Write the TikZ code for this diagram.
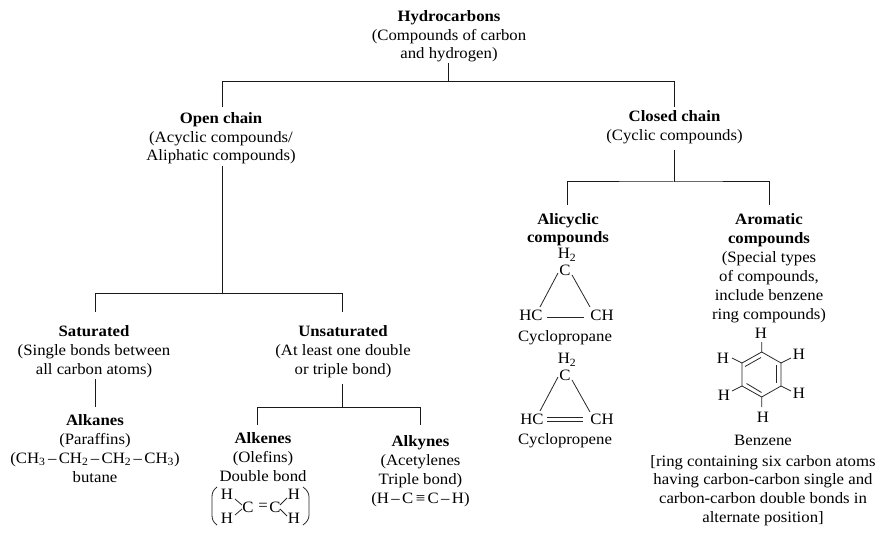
\documentclass[tikz,border=0pt]{standalone}
\usepackage{fontspec}
\setmainfont[FakeStretch=1.06]{Liberation Serif}
\usetikzlibrary{calc}
\tikzset{
  x=1pt,y=-1pt,
  txt/.style={inner sep=0pt,align=center,anchor=base,font=\fontsize{15.8}{18.8}\selectfont},
  lbl/.style={inner sep=0pt,anchor=center,font=\fontsize{15.8}{18}\selectfont},
  tree/.style={line width=1pt,black!90},
  bond/.style={line width=0.8pt,black!85},
}
\newcommand{\hb}[1]{\textbf{#1}}
\newcommand{\sbs}[1]{\textsubscript{#1}}
\newcommand{\ts}{\hspace{2.4pt}}
\begin{document}
\begin{tikzpicture}
\useasboundingbox (0,0) rectangle (882,534);
% texts (position = baseline of last line)
\node[txt] (root) at (449,59) {\hb{Hydrocarbons}\\(Compounds of carbon\\and hydrogen)};
\node[txt] (open) at (221,161) {\hb{Open chain}\\(Acyclic compounds/\\Aliphatic compounds)};
\node[txt] (closed) at (674.5,140.5) {\hb{Closed chain}\\(Cyclic compounds)};
\node[txt] (alicyclic) at (568,243) {\hb{Alicyclic}\\\hb{compounds}};
\node[txt] (aromatic) at (769,319) {\hb{Aromatic}\\\hb{compounds}\\(Special types\\of compounds,\\include benzene\\ring compounds)};
\node[txt] (sat) at (94,374.5) {\hb{Saturated}\\(Single bonds between\\all carbon atoms)};
\node[txt] (unsat) at (343,374.5) {\hb{Unsaturated}\\(At least one double\\or triple bond)};
\node[txt] (alkanes) at (95,482) {\hb{Alkanes}\\(Paraffins)\\(CH\sbs{3}\ts--\ts CH\sbs{2}\ts--\ts CH\sbs{2}\ts--\ts CH\sbs{3})\\butane};
\node[txt] (alkenes) at (263,481) {\hb{Alkenes}\\(Olefins)\\Double bond};
\node[txt] (alkynes) at (420.5,503) {\hb{Alkynes}\\(Acetylenes\\Triple bond)\\(H\ts--\ts C\ts≡\ts C\ts--\ts H)};
\node[txt] (benzlab) at (763,445.5) {Benzene};
\node[txt] (benztxt) at (763,522.5) {[ring containing six carbon atoms\\having carbon-carbon single and\\carbon-carbon double bonds in\\alternate position]};
% tree
\coordinate (rootb) at (448.5,63);
\coordinate (j0) at (448.5,81.7);
\coordinate (opent) at (222.3,106.7);
\coordinate (closedt) at (674,107);
\draw[tree] (rootb) -- (j0);
\draw[tree] (opent) |- (j0) -| (closedt);
\coordinate (openb) at (222.3,166);
\coordinate (j1) at (222.3,293.7);
\coordinate (satt) at (95,312);
\coordinate (unsatt) at (342.7,312);
\draw[tree] (openb) -- (j1);
\draw[tree] (satt) |- (j1) -| (unsatt);
\coordinate (closedb) at (674,150);
\coordinate (j2) at (674,182);
\coordinate (alit) at (567.7,205);
\coordinate (arot) at (769.3,205);
\draw[tree] (closedb) -- (j2);
\draw[tree] (alit) |- (j2) -| (arot);
\coordinate (satb) at (95,379);
\coordinate (alkt) at (95,407);
\draw[tree] (satb) -- (alkt);
\coordinate (unsatb) at (342.7,384);
\coordinate (j3) at (342.7,407.7);
\coordinate (alkenet) at (257,425);
\coordinate (alkynet) at (420,425);
\draw[tree] (unsatb) -- (j3);
\draw[tree] (alkenet) |- (j3) -| (alkynet);
% cyclopropane
\node[lbl] (pH) at (567,255) {H\sbs{2}};
\node[lbl] (pC) at (565,270) {C};
\node[lbl] (pL) at (531,315) {HC};
\node[lbl] (pR) at (602,315) {CH};
\node[txt] (pN) at (565,341) {Cyclopropane};
\draw[bond] (558,273) -- (540,307);
\draw[bond] (572,275) -- (590,307);
\draw[bond] (547,317) -- (584,317);
% cyclopropene
\node[lbl] (eH) at (567,360) {H\sbs{2}};
\node[lbl] (eC) at (565,375) {C};
\node[lbl] (eL) at (532,419) {HC};
\node[lbl] (eR) at (602,419) {CH};
\node[txt] (eN) at (565,444) {Cyclopropene};
\draw[bond] (558,377) -- (540,411);
\draw[bond] (572,380) -- (590,412);
\draw[bond] (547,417.5) -- (583,417.5);
\draw[bond] (547,421) -- (583,421);
% benzene
\coordinate (b1) at (761.7,352);
\coordinate (b2) at (781,363);
\coordinate (b3) at (781,386);
\coordinate (b4) at (761.7,397);
\coordinate (b5) at (742,386);
\coordinate (b6) at (742,363);
\draw[bond,line join=round] (b1) -- (b2) -- (b3) -- (b4) -- (b5) -- (b6) -- cycle;
\draw[bond] (745,366.5) -- (761,357.5);
\draw[bond] (776,365) -- (776,383);
\draw[bond] (746.5,383.5) -- (761.5,392.5);
\node[lbl] (h1) at (761,333) {H};
\node[lbl] (h2) at (799,354) {H};
\node[lbl] (h3) at (799,393) {H};
\node[lbl] (h4) at (763,417) {H};
\node[lbl] (h5) at (724,395) {H};
\node[lbl] (h6) at (723,358) {H};
\coordinate (s1) at (761.7,342);
\coordinate (s2) at (791,358);
\coordinate (s3) at (791,391);
\coordinate (s4) at (761.7,407);
\coordinate (s5) at (732,391);
\coordinate (s6) at (732,358);
\draw[bond] (b1) -- (s1) (b2) -- (s2) (b3) -- (s3) (b4) -- (s4) (b5) -- (s5) (b6) -- (s6);
% ethene
\node[lbl] (a1) at (227,494) {H};
\node[lbl] (a2) at (227,518) {H};
\node[lbl] (a3) at (248,507) {C};
\node[lbl] (a4) at (263,507) {=};
\node[lbl] (a5) at (275,507) {C};
\node[lbl] (a6) at (294,494) {H};
\node[lbl] (a7) at (294,518) {H};
\draw[bond] (235,499) -- (242,505);
\draw[bond] (235,515) -- (242,509);
\draw[bond] (280,505) -- (287,498);
\draw[bond] (280,509) -- (287,516);
\draw[bond] (217,487) .. controls (213,490) and (212,493) .. (212,497) -- (212,515) .. controls (212,519) and (213,522) .. (217,525);
\draw[bond] (303,487) .. controls (307,490) and (309,493) .. (309,497) -- (309,515) .. controls (309,519) and (307,522) .. (303,525);
\end{tikzpicture}
\end{document}
